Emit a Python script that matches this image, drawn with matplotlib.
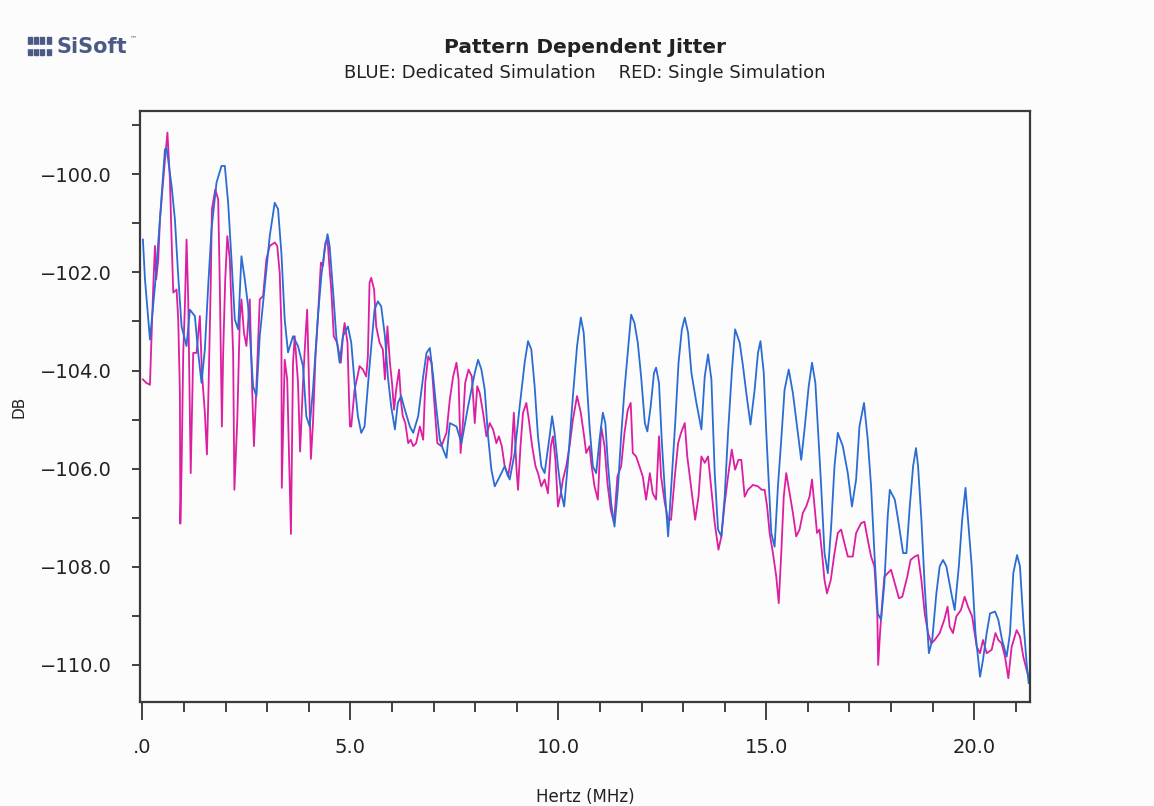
import numpy as np
import matplotlib
matplotlib.use('Agg')
import matplotlib.pyplot as plt
from matplotlib.patches import Rectangle

# Pattern dependent jitter spectra
blue_mhz = [0.01, 0.06, 0.18, 0.30, 0.42, 0.54, 0.58, 0.70, 0.78, 0.86,
            0.94, 1.06, 1.14, 1.26, 1.34, 1.42, 1.50, 1.58, 1.66, 1.78,
            1.90, 1.98, 2.06, 2.14, 2.22, 2.30, 2.38, 2.46, 2.54, 2.66,
            2.74, 2.82, 2.94, 3.06, 3.18, 3.26, 3.34, 3.42, 3.50, 3.62,
            3.74, 3.86, 3.94, 4.02, 4.10, 4.22, 4.30, 4.38, 4.45, 4.50,
            4.58, 4.66, 4.74, 4.82, 4.94, 5.02, 5.10, 5.18, 5.26, 5.34,
            5.46, 5.58, 5.66, 5.74, 5.83, 5.90, 5.98, 6.07, 6.14, 6.22,
            6.31, 6.43, 6.51, 6.63, 6.75, 6.83, 6.91, 6.99, 7.07, 7.15,
            7.23, 7.31, 7.39, 7.55, 7.67, 7.83, 7.99, 8.07, 8.15, 8.23,
            8.31, 8.39, 8.47, 8.59, 8.71, 8.83, 8.95, 9.07, 9.19, 9.27,
            9.35, 9.43, 9.51, 9.59, 9.67, 9.79, 9.85, 9.91, 9.99, 10.07,
            10.14, 10.23, 10.35, 10.45, 10.54, 10.61, 10.67, 10.75, 10.83, 10.91,
            10.99, 11.07, 11.13, 11.19, 11.27, 11.35, 11.43, 11.51, 11.59, 11.69,
            11.75, 11.83, 11.91, 11.99, 12.08, 12.14, 12.22, 12.30, 12.35, 12.42,
            12.49, 12.57, 12.64, 12.71, 12.81, 12.89, 12.97, 13.04, 13.12, 13.20,
            13.32, 13.44, 13.52, 13.60, 13.68, 13.76, 13.84, 13.92, 14.00, 14.08,
            14.17, 14.25, 14.36, 14.44, 14.52, 14.62, 14.72, 14.80, 14.86, 14.94,
            15.00, 15.06, 15.12, 15.20, 15.28, 15.36, 15.44, 15.54, 15.64, 15.74,
            15.84, 15.92, 16.02, 16.10, 16.18, 16.24, 16.32, 16.40, 16.48, 16.56,
            16.64, 16.72, 16.84, 16.96, 17.06, 17.16, 17.24, 17.35, 17.44, 17.52,
            17.60, 17.68, 17.76, 17.84, 17.92, 17.97, 18.09, 18.17, 18.29, 18.37,
            18.45, 18.53, 18.60, 18.65, 18.73, 18.81, 18.91, 18.99, 19.09, 19.17,
            19.25, 19.33, 19.45, 19.53, 19.63, 19.71, 19.79, 19.85, 19.94, 20.03,
            20.14, 20.21, 20.30, 20.38, 20.50, 20.58, 20.67, 20.78, 20.86, 20.94,
            21.03, 21.10, 21.18, 21.26, 21.31]
blue_db = [-101.33, -102.14, -103.37, -102.28, -100.92, -99.49, -99.46, -100.24, -100.92, -102.08,
           -103.10, -103.50, -102.76, -102.89, -103.64, -104.25, -103.57, -102.28, -101.12, -100.17,
           -99.83, -99.83, -100.58, -101.73, -102.96, -103.16, -101.67, -102.14, -102.69, -104.32,
           -104.52, -103.30, -102.28, -101.26, -100.58, -100.71, -101.60, -102.96, -103.63, -103.30,
           -103.50, -103.91, -104.93, -105.14, -104.39, -102.89, -102.08, -101.53, -101.22, -101.46,
           -102.35, -103.30, -103.84, -103.30, -103.10, -103.43, -104.25, -104.93, -105.27, -105.14,
           -103.91, -102.76, -102.59, -102.69, -103.30, -104.12, -104.73, -105.20, -104.66, -104.52,
           -104.80, -105.14, -105.27, -104.93, -104.12, -103.64, -103.54, -104.12, -104.80, -105.41,
           -105.61, -105.78, -105.07, -105.14, -105.48, -104.73, -104.05, -103.78, -103.98, -104.39,
           -105.34, -106.02, -106.36, -106.16, -105.95, -106.22, -105.68, -104.73, -103.84, -103.40,
           -103.57, -104.32, -105.34, -105.95, -106.09, -105.34, -104.93, -105.27, -105.95, -106.50,
           -106.77, -105.88, -104.52, -103.50, -102.92, -103.23, -104.05, -105.14, -105.95, -106.09,
           -105.41, -104.86, -105.07, -105.88, -106.70, -107.18, -106.43, -105.34, -104.39, -103.43,
           -102.86, -103.03, -103.43, -104.12, -105.07, -105.24, -104.73, -104.05, -103.94, -104.25,
           -105.48, -106.57, -107.38, -106.43, -105.07, -103.84, -103.16, -102.92, -103.23, -104.05,
           -104.66, -105.20, -104.12, -103.67, -104.18, -106.09, -107.24, -107.38, -106.57, -105.27,
           -104.05, -103.16, -103.43, -103.91, -104.46, -105.10, -104.39, -103.64, -103.40, -104.05,
           -105.27, -106.29, -107.31, -107.59, -106.36, -105.41, -104.39, -103.98, -104.46, -105.14,
           -105.82, -105.20, -104.32, -103.84, -104.25, -105.14, -106.36, -107.72, -108.13, -107.18,
           -105.95, -105.27, -105.54, -106.09, -106.77, -106.22, -105.14, -104.66, -105.41, -106.36,
           -107.72, -108.95, -109.08, -108.33, -106.97, -106.43, -106.63, -107.04, -107.72, -107.72,
           -106.77, -105.95, -105.58, -105.95, -107.04, -108.40, -109.76, -109.49, -108.54, -107.99,
           -107.86, -107.99, -108.54, -108.88, -107.99, -107.04, -106.39, -107.04, -107.99, -109.35,
           -110.24, -109.90, -109.35, -108.95, -108.91, -109.08, -109.49, -109.83, -109.35, -108.13,
           -107.76, -107.99, -109.08, -109.97, -110.37]

red_mhz = [0.01, 0.09, 0.18, 0.21, 0.26, 0.30, 0.33, 0.38, 0.42, 0.50,
           0.60, 0.66, 0.70, 0.74, 0.82, 0.86, 0.90, 0.91, 0.94, 0.98,
           1.02, 1.06, 1.10, 1.14, 1.16, 1.22, 1.30, 1.38, 1.43, 1.50,
           1.55, 1.59, 1.64, 1.67, 1.75, 1.82, 1.86, 1.91, 1.94, 1.99,
           2.04, 2.10, 2.18, 2.21, 2.28, 2.34, 2.38, 2.44, 2.50, 2.58,
           2.64, 2.68, 2.74, 2.82, 2.90, 2.98, 3.06, 3.18, 3.24, 3.30,
           3.34, 3.35, 3.42, 3.48, 3.54, 3.57, 3.62, 3.66, 3.74, 3.79,
           3.86, 3.92, 3.96, 4.00, 4.05, 4.10, 4.16, 4.22, 4.29, 4.34,
           4.40, 4.45, 4.50, 4.54, 4.60, 4.68, 4.77, 4.82, 4.86, 4.93,
           4.97, 4.99, 5.02, 5.10, 5.17, 5.22, 5.30, 5.38, 5.42, 5.46,
           5.50, 5.57, 5.62, 5.70, 5.78, 5.83, 5.89, 5.95, 6.00, 6.05,
           6.10, 6.17, 6.22, 6.26, 6.32, 6.39, 6.45, 6.51, 6.58, 6.67,
           6.75, 6.80, 6.87, 6.95, 7.03, 7.09, 7.19, 7.31, 7.39, 7.47,
           7.55, 7.60, 7.65, 7.71, 7.76, 7.84, 7.92, 7.99, 8.05, 8.11,
           8.19, 8.27, 8.35, 8.43, 8.51, 8.57, 8.64, 8.71, 8.79, 8.87,
           8.93, 8.99, 9.03, 9.09, 9.15, 9.23, 9.29, 9.37, 9.45, 9.51,
           9.59, 9.67, 9.75, 9.82, 9.87, 9.93, 9.99, 10.06, 10.11, 10.19,
           10.27, 10.35, 10.45, 10.54, 10.62, 10.67, 10.75, 10.79, 10.87, 10.95,
           11.03, 11.11, 11.18, 11.26, 11.34, 11.42, 11.51, 11.59, 11.67, 11.74,
           11.79, 11.87, 11.95, 12.03, 12.11, 12.20, 12.27, 12.35, 12.42, 12.47,
           12.56, 12.64, 12.71, 12.80, 12.88, 12.95, 13.04, 13.10, 13.16, 13.24,
           13.29, 13.37, 13.44, 13.52, 13.60, 13.68, 13.76, 13.85, 13.92, 14.00,
           14.08, 14.17, 14.25, 14.33, 14.40, 14.48, 14.56, 14.68, 14.80, 14.89,
           14.96, 15.02, 15.08, 15.16, 15.24, 15.30, 15.36, 15.42, 15.48, 15.56,
           15.64, 15.72, 15.80, 15.88, 15.96, 16.04, 16.10, 16.16, 16.22, 16.28,
           16.34, 16.40, 16.46, 16.55, 16.64, 16.72, 16.80, 16.88, 16.96, 17.08,
           17.16, 17.28, 17.36, 17.44, 17.52, 17.60, 17.67, 17.69, 17.73, 17.78,
           17.84, 17.92, 18.00, 18.11, 18.19, 18.27, 18.39, 18.47, 18.57, 18.65,
           18.73, 18.81, 18.89, 18.97, 19.05, 19.17, 19.28, 19.36, 19.41, 19.49,
           19.57, 19.68, 19.77, 19.85, 19.95, 20.06, 20.14, 20.21, 20.30, 20.42,
           20.51, 20.58, 20.66, 20.74, 20.82, 20.90, 21.02, 21.10, 21.18, 21.26,
           21.31]
red_db = [-104.18, -104.25, -104.29, -103.50, -102.28, -101.46, -102.14, -101.73, -100.92, -100.10,
          -99.15, -100.10, -101.33, -102.41, -102.35, -102.96, -104.46, -107.12, -106.02, -103.64,
          -102.69, -101.33, -102.55, -104.86, -106.09, -103.64, -103.64, -102.89, -104.05, -104.86,
          -105.71, -104.32, -102.28, -100.71, -100.31, -100.51, -102.28, -105.14, -103.64, -102.14,
          -101.26, -101.73, -103.64, -106.43, -105.00, -102.96, -102.55, -103.23, -103.50, -102.55,
          -104.46, -105.54, -104.32, -102.55, -102.48, -101.73, -101.46, -101.39, -101.46, -102.01,
          -103.10, -106.39, -103.78, -104.18, -106.22, -107.33, -103.84, -103.30, -104.25, -105.65,
          -104.25, -103.30, -102.76, -104.12, -105.80, -105.07, -103.71, -102.89, -101.80, -101.87,
          -101.39, -101.33, -101.94, -102.35, -103.30, -103.43, -103.84, -103.30, -103.03, -103.43,
          -104.66, -105.14, -105.14, -104.39, -104.12, -103.91, -103.98, -104.12, -103.71, -102.21,
          -102.11, -102.35, -103.10, -103.43, -103.57, -104.18, -103.10, -103.84, -104.25, -104.80,
          -104.39, -103.98, -104.66, -104.93, -105.07, -105.48, -105.41, -105.54, -105.48, -105.14,
          -105.41, -104.25, -103.71, -103.84, -104.80, -105.48, -105.54, -105.27, -104.59, -104.12,
          -103.84, -104.18, -105.68, -105.00, -104.25, -103.98, -104.12, -105.07, -104.32, -104.46,
          -104.86, -105.34, -105.07, -105.20, -105.48, -105.34, -105.54, -105.95, -106.16, -105.75,
          -104.86, -105.95, -106.43, -105.54, -104.86, -104.66, -105.00, -105.54, -105.95, -106.09,
          -106.36, -106.22, -106.50, -105.54, -105.34, -105.82, -106.77, -106.50, -106.22, -105.95,
          -105.54, -105.00, -104.52, -104.86, -105.34, -105.68, -105.54, -105.88, -106.36, -106.63,
          -105.14, -105.54, -106.29, -106.84, -107.11, -106.16, -105.95, -105.27, -104.80, -104.66,
          -105.68, -105.75, -105.95, -106.16, -106.63, -106.09, -106.50, -106.63, -105.34, -106.16,
          -106.70, -107.04, -107.04, -106.16, -105.48, -105.27, -105.07, -105.75, -106.16, -106.70,
          -107.04, -106.57, -105.75, -105.88, -105.75, -106.43, -107.11, -107.65, -107.38, -106.70,
          -106.16, -105.61, -106.02, -105.82, -105.82, -106.57, -106.43, -106.33, -106.36, -106.43,
          -106.43, -106.77, -107.31, -107.72, -108.20, -108.74, -107.72, -106.57, -106.09, -106.50,
          -106.90, -107.38, -107.24, -106.90, -106.77, -106.57, -106.22, -106.77, -107.31, -107.24,
          -107.72, -108.27, -108.54, -108.27, -107.72, -107.31, -107.24, -107.52, -107.79, -107.79,
          -107.31, -107.11, -107.08, -107.45, -107.79, -107.99, -108.95, -110.00, -109.42, -108.81,
          -108.20, -108.13, -108.06, -108.40, -108.64, -108.61, -108.20, -107.86, -107.79, -107.76,
          -108.27, -108.95, -109.35, -109.56, -109.49, -109.35, -109.08, -108.81, -109.22, -109.35,
          -109.01, -108.88, -108.61, -108.81, -109.01, -109.63, -109.76, -109.49, -109.76, -109.69,
          -109.35, -109.49, -109.56, -109.83, -110.27, -109.63, -109.29, -109.42, -109.83, -110.10,
          -110.24]

x_ticks = [0, 5, 10, 15, 20]
x_tick_labels = ['.0', '5.0', '10.0', '15.0', '20.0']
y_ticks = [-110, -108, -106, -104, -102, -100]
y_tick_labels = ['\u2212110.0', '\u2212108.0', '\u2212106.0', '\u2212104.0', '\u2212102.0', '\u2212100.0']

bg = '#fcfcfc'
fig = plt.figure(figsize=(11.54, 8.06), dpi=100, facecolor=bg)
ax = fig.add_axes([0.1213, 0.129, 0.7712, 0.7333], facecolor=bg)

ax.plot(red_mhz, red_db, color='#dc1ea0', lw=1.3)
ax.plot(blue_mhz, blue_db, color='#2b6cd4', lw=1.3)

ax.set_xlim(-0.06, 21.34)
ax.set_ylim(-110.755, -98.71)

ax.set_xticks(x_ticks)
ax.set_xticklabels(x_tick_labels)
ax.set_xticks(np.arange(0, 22, 1), minor=True)
ax.set_yticks(y_ticks)
ax.set_yticklabels(y_tick_labels)
ax.set_yticks(np.arange(-109, -98, 2), minor=True)

ax.tick_params(axis='x', which='major', length=13, width=1.2, pad=13, labelsize=14, colors='#222222')
ax.tick_params(axis='x', which='minor', length=7, width=1.2, colors='#222222')
ax.tick_params(axis='y', which='both', length=6, width=1.2, pad=14, labelsize=14, colors='#222222')

for s in ax.spines.values():
    s.set_color('#3a3a3a')
    s.set_linewidth(1.6)

ax.set_xlabel('Hertz (MHz)', fontsize=12, color='#222222', labelpad=22)
ax.set_ylabel('DB', fontsize=11, color='#222222', labelpad=10)

fig.text(0.507, 0.941, 'Pattern Dependent Jitter', ha='center', va='center',
         fontsize=14.5, fontweight='bold', color='#222222')
fig.text(0.507, 0.909, 'BLUE: Dedicated Simulation    RED: Single Simulation', ha='center', va='center',
         fontsize=13, color='#222222')

# SiSoft logo
logo_col = '#4a5a85'
for i in range(4):
    fig.patches.append(Rectangle((0.024 + i * 0.0055, 0.932), 0.0035, 0.022,
                                 transform=fig.transFigure, color=logo_col))
fig.patches.append(Rectangle((0.023, 0.941), 0.023, 0.003, transform=fig.transFigure, color=bg))
fig.text(0.049, 0.942, 'SiSoft', ha='left', va='center', fontsize=15,
         fontweight='bold', color=logo_col)
fig.text(0.113, 0.953, '\u2122', ha='left', va='center', fontsize=5, color=logo_col)

fig.savefig('out.png', dpi=100, facecolor=bg)
